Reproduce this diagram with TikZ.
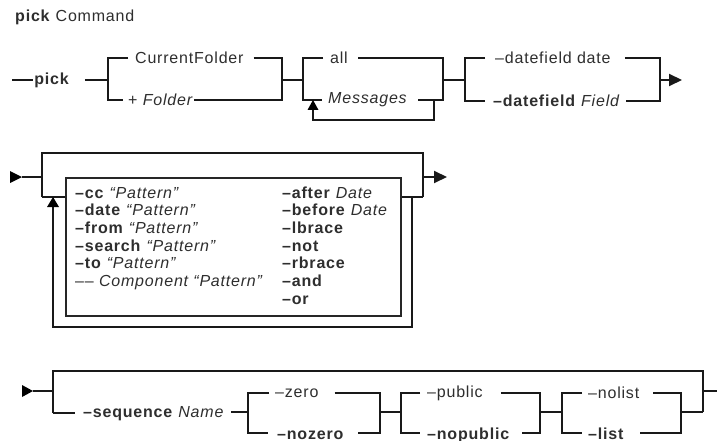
\documentclass[tikz,border=0pt]{standalone}
\usepackage{fontspec}
\setmainfont{Liberation Sans}[LetterSpace=5]
\usetikzlibrary{arrows.meta,calc}
\begin{document}
\begin{tikzpicture}[x=1pt,y=-1pt,
  ln/.style={line width=2pt,draw=black!90,line join=miter},
  tip/.style={-{Triangle[length=13pt,width=12pt]}},
  tx/.style={inner sep=0pt,anchor=west,text=black!82,font=\fontsize{16}{17.7}\selectfont},
  bt/.style={inner sep=0pt,anchor=base west,text=black!82,font=\fontsize{16}{17.7}\selectfont}]
\useasboundingbox (0,0) rectangle (717,441);
\fill[white] (0,0) rectangle (717,441);

% title
\node[tx] (title) at (15,17) {\textbf{pick} Command};

% ---------------- row 1 ----------------
\coordinate (r1s) at (12,80);
\node[tx,anchor=center] (pick) at (52,80) {\textbf{pick}};
\coordinate (b1) at (108,80);
\coordinate (b1r) at (282,80);
\coordinate (b2) at (303,80);
\coordinate (b2r) at (443,80);
\coordinate (b3) at (465,80);
\coordinate (b3r) at (660,80);
\coordinate (r1e) at (682,80);

\node[tx] (cf) at (135,58) {CurrentFolder};
\node[tx] (fo) at (128,100) {+ \textit{Folder}};
\node[tx] (al) at (330,58) {all};
\node[tx] (ms) at (328,100) {\textit{Messages}};
\node[tx] (d1) at (495,58) {\textendash datefield date};
\node[tx] (d2) at (493,101) {\textbf{\textendash datefield} \textit{Field}};

\draw[ln] (r1s) -- ([xshift=-1pt]pick.west);
\draw[ln] ([xshift=15pt]pick.east) -- (b1);
\draw[ln] ([xshift=-7pt]cf.west) -| (b1) |- ([xshift=-5pt]fo.west);
\draw[ln] ([xshift=10pt]cf.east) -| (b1r) |- (fo.east);
\draw[ln] (b1r) -- (b2);
\draw[ln] ([xshift=-7pt]al.west) -| (b2) |- ([xshift=-6pt]ms.west);
\draw[ln] ([xshift=10pt]al.east) -| (b2r) |- ([xshift=10pt]ms.east);
\coordinate (m1) at (434,100);
\coordinate (m2) at (313,100);
\draw[ln] (m1) -- ++(0,20) -| ($(m2)+(0,9)$);
\fill[black] (m2) -- ++(-5.5,10) -- ++(11,0) -- cycle;
\draw[ln] (b2r) -- (b3);
\draw[ln] ([xshift=-10pt]d1.west) -| (b3) |- ([xshift=-8pt]d2.west);
\draw[ln] ([xshift=14pt]d1.east) -| (b3r) |- ([xshift=6pt]d2.east);
\draw[ln,tip] (b3r) -- (r1e);

% ---------------- row 2 ----------------
\coordinate (r2in) at (22,177);
\coordinate (c2l) at (42,177);
\coordinate (c2r) at (423,177);
\coordinate (r2e) at (447,177);
\fill[black] (r2in) -- ++(-12,-6) -- ++(0,12) -- cycle;
\draw[ln] (r2in) -- (c2l);
\node[draw=black!85,line width=2pt,inner sep=0pt,minimum width=335pt,minimum height=138pt,anchor=north west] (box) at (65,177) {};
\draw[ln] ($(c2l)+(0,20)$) -- ($(c2l)+(0,-24)$) -| ($(c2r)+(0,20)$);
\draw[ln] ($(c2l)+(0,20)$) -- ($(box.north west)+(0,20)$);
\draw[ln] ($(box.north east)+(0,20)$) -- ($(c2r)+(0,20)$);
\draw[ln,tip] (c2r) -- (r2e);
\draw[ln] ($(box.north east)+(10,20)$) |- ($(box.south west)+(-12,10)$) -- ($(box.north west)+(-12,30)$);
\fill[black] ($(box.north west)+(-12,20)$) -- ++(-6,10) -- ++(12,0) -- cycle;

\node[bt] (p1) at (75,198.0) {\textbf{\textendash cc} \textit{“Pattern”}};
\node[bt] (p2) at (75,215.7) {\textbf{\textendash date} \textit{“Pattern”}};
\node[bt] (p3) at (75,233.4) {\textbf{\textendash from} \textit{“Pattern”}};
\node[bt] (p4) at (75,251.1) {\textbf{\textendash search} \textit{“Pattern”}};
\node[bt] (p5) at (75,268.8) {\textbf{\textendash to} \textit{“Pattern”}};
\node[bt] (p6) at (75,286.5) {\textendash\textendash\ \textit{Component “Pattern”}};

\node[bt] (q1) at (282,198.0) {\textbf{\textendash after} \textit{Date}};
\node[bt] (q2) at (282,215.7) {\textbf{\textendash before} \textit{Date}};
\node[bt] (q3) at (282,233.4) {\textbf{\textendash lbrace}};
\node[bt] (q4) at (282,251.1) {\textbf{\textendash not}};
\node[bt] (q5) at (282,268.8) {\textbf{\textendash rbrace}};
\node[bt] (q6) at (282,286.5) {\textbf{\textendash and}};
\node[bt] (q7) at (282,304.2) {\textbf{\textendash or}};

% ---------------- row 3 ----------------
\coordinate (r3in) at (33,391);
\coordinate (c3l) at (53,391);
\coordinate (c3r) at (703,391);
\coordinate (r3e) at (717,391);
\fill[black] (r3in) -- ++(-11,-6) -- ++(0,12) -- cycle;
\draw[ln] (r3in) -- (c3l);
\draw[ln] ($(c3l)+(0,22)$) -- ($(c3l)+(0,-20)$) -| ($(c3r)+(0,21)$);
\draw[ln] (c3r) -- (r3e);

\node[tx] (sq) at (83,414) {\textbf{\textendash sequence} \textit{Name}};
\coordinate (b4) at (248,412);
\coordinate (b4r) at (380,412);
\coordinate (b5) at (401,412);
\coordinate (b5r) at (540,412);
\coordinate (b6) at (562,412);
\coordinate (b6r) at (681,412);

\node[tx] (z1) at (275,393) {\textendash zero};
\node[bt] (z2) at (277,439) {\textbf{\textendash nozero}};
\node[tx] (u1) at (427,393) {\textendash public};
\node[bt] (u2) at (427,439) {\textbf{\textendash nopublic}};
\node[tx] (n1) at (588,393) {\textendash nolist};
\node[bt] (n2) at (588,439) {\textbf{\textendash list}};

\draw[ln] ($(c3l)+(0,22)$) -- ($(sq.west)+(-8,-1)$);
\draw[ln] ($(sq.east)+(7,-2)$) -- (b4);

\draw[ln] ([xshift=-6pt]z1.west) -| (b4) -- ++(0,21) -- ++(20,0);
\draw[ln] ([xshift=16pt]z1.east) -| (b4r) -- ++(0,21) -- ++(-22,0);
\draw[ln] (b4r) -- (b5);
\draw[ln] ([xshift=-7pt]u1.west) -| (b5) -- ++(0,21) -- ++(19,0);
\draw[ln] ([xshift=18pt]u1.east) -| (b5r) -- ++(0,21) -- ++(-18,0);
\draw[ln] (b5r) -- (b6);
\draw[ln] ([xshift=-6pt]n1.west) -| (b6) -- ++(0,21) -- ++(20,0);
\draw[ln] ([xshift=14pt]n1.east) -| (b6r) -- ++(0,21) -- ++(-41,0);
\draw[ln] (b6r) -- ($(c3r)+(0,21)$);
\end{tikzpicture}
\end{document}
